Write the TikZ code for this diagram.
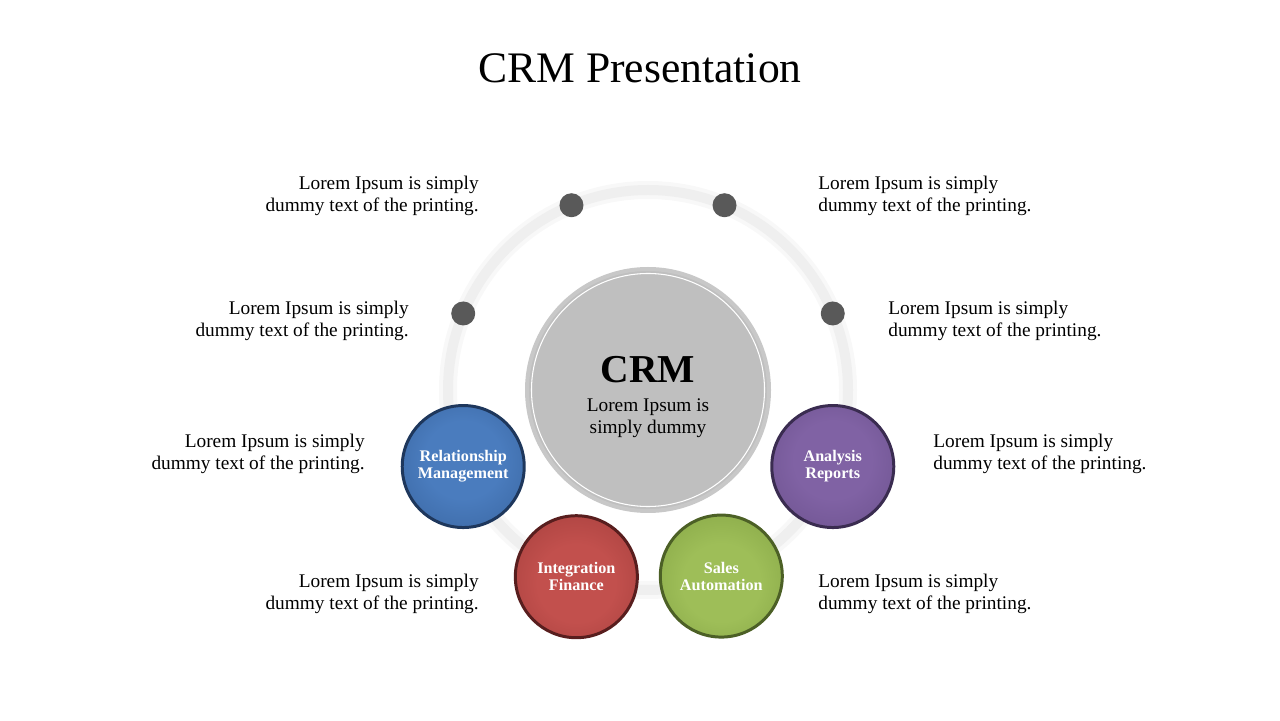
\documentclass[tikz,border=0pt]{standalone}
\usepackage{fontspec}
\setmainfont{Liberation Serif}
\usetikzlibrary{positioning}
\definecolor{ringgray}{RGB}{239,239,239}
\definecolor{ringhalo}{RGB}{248,248,248}
\definecolor{hubfill}{RGB}{191,191,191}
\definecolor{hubedge}{RGB}{200,200,200}
\definecolor{dotgray}{RGB}{89,89,89}
\definecolor{relblue}{RGB}{74,124,190}
\definecolor{relbluedark}{RGB}{46,86,140}
\definecolor{relblueedge}{RGB}{30,55,92}
\definecolor{intred}{RGB}{194,80,77}
\definecolor{intreddark}{RGB}{146,52,50}
\definecolor{intrededge}{RGB}{88,30,30}
\definecolor{salesgreen}{RGB}{158,190,88}
\definecolor{salesgreendark}{RGB}{116,148,56}
\definecolor{salesgreenedge}{RGB}{76,96,38}
\definecolor{anapurple}{RGB}{128,98,164}
\definecolor{anapurpledark}{RGB}{94,70,126}
\definecolor{anapurpleedge}{RGB}{58,44,80}
\pgfdeclareradialshading{relshade}{\pgfpoint{0bp}{4bp}}
  {color(0bp)=(relblue); color(16bp)=(relblue); color(50bp)=(relbluedark)}
\pgfdeclareradialshading{intshade}{\pgfpoint{0bp}{-4bp}}
  {color(0bp)=(intred); color(16bp)=(intred); color(50bp)=(intreddark)}
\pgfdeclareradialshading{salesshade}{\pgfpoint{0bp}{-4bp}}
  {color(0bp)=(salesgreen); color(16bp)=(salesgreen); color(50bp)=(salesgreendark)}
\pgfdeclareradialshading{anashade}{\pgfpoint{0bp}{4bp}}
  {color(0bp)=(anapurple); color(16bp)=(anapurple); color(50bp)=(anapurpledark)}
\tikzset{
  ringhaze/.style={draw=ringhalo,line width=0.36cm},
  ringline/.style={draw=ringgray,line width=0.2cm},
  hubdisc/.style={circle,fill=hubfill,draw=hubedge,line width=0.08cm,
                  minimum size=4.84cm,inner sep=0pt},
  hubinner/.style={circle,draw=white,line width=0.6pt,minimum size=4.66cm,inner sep=0pt},
  hubtext/.style={align=center,inner sep=0pt,font=\fontsize{11}{12.5}\selectfont},
  spoke/.style={circle,fill=dotgray,minimum size=0.48cm,inner sep=0pt},
  module/.style={circle,minimum size=2.44cm,inner sep=0pt,line width=1.7pt,align=center,
                 text=white,font=\fontsize{9.2}{9.6}\selectfont\bfseries},
  relmod/.style={module,draw=relblueedge,shading=relshade},
  intmod/.style={module,draw=intrededge,shading=intshade},
  salesmod/.style={module,draw=salesgreenedge,shading=salesshade},
  anamod/.style={module,draw=anapurpleedge,shading=anashade},
  blurb/.style={font=\fontsize{11}{12.5}\selectfont,inner sep=0pt},
  blurbleft/.style={blurb,anchor=east,align=right},
  blurbright/.style={blurb,anchor=west,align=left},
}

\begin{document}
\begin{tikzpicture}[x=1cm,y=1cm]
  \path[use as bounding box] (0,0) rectangle (25.6,14.4);
  \node[font=\fontsize{24.8}{28}\selectfont] (title) at (12.8,13.04) {CRM Presentation};

  % ring round the hub
  \coordinate (centre) at (12.96,6.6);
  \draw[ringhaze] (centre) circle (4);
  \draw[ringline] (centre) circle (4);

  \node[hubdisc] (hub) at (centre) {};
  \node[hubinner] (hubline) at (centre) {};
  \node[hubtext] (hubcap) at ([yshift=-0.14cm]centre)
    {{\fontsize{22.5}{24}\selectfont\bfseries CRM}\\[4pt]
     Lorem Ipsum is\\simply dummy};

  % dots on the ring
  \foreach \ang/\nm in {112.5/dotnw,67.5/dotne,157.5/dotw,22.5/dote}
    \node[spoke] (\nm) at ([shift={(\ang:4)}]centre) {};

  % modules on the ring
  \node[relmod] (relation) at ([shift={(202.5:4)}]centre) {Relationship\\Management};
  \node[intmod] (integration) at ([shift={(249:4)}]centre) {Integration\\Finance};
  \node[salesmod] (sales) at ([shift={(291.5:4)}]centre) {Sales\\Automation};
  \node[anamod] (analysis) at ([shift={(337.5:4)}]centre) {Analysis\\Reports};

  % side texts
  \node[blurbleft] (txtnw) at (9.58,10.48) {Lorem Ipsum is simply\\dummy text of the printing.};
  \node[blurbleft] (txtw) at (8.18,7.98) {Lorem Ipsum is simply\\dummy text of the printing.};
  \node[blurbleft] (txtsw) at (7.30,5.32) {Lorem Ipsum is simply\\dummy text of the printing.};
  \node[blurbleft] (txtbl) at (9.58,2.52) {Lorem Ipsum is simply\\dummy text of the printing.};
  \node[blurbright] (txtne) at (16.36,10.48) {Lorem Ipsum is simply\\dummy text of the printing.};
  \node[blurbright] (txte) at (17.76,7.98) {Lorem Ipsum is simply\\dummy text of the printing.};
  \node[blurbright] (txtse) at (18.66,5.32) {Lorem Ipsum is simply\\dummy text of the printing.};
  \node[blurbright] (txtbr) at (16.36,2.52) {Lorem Ipsum is simply\\dummy text of the printing.};
\end{tikzpicture}
\end{document}
